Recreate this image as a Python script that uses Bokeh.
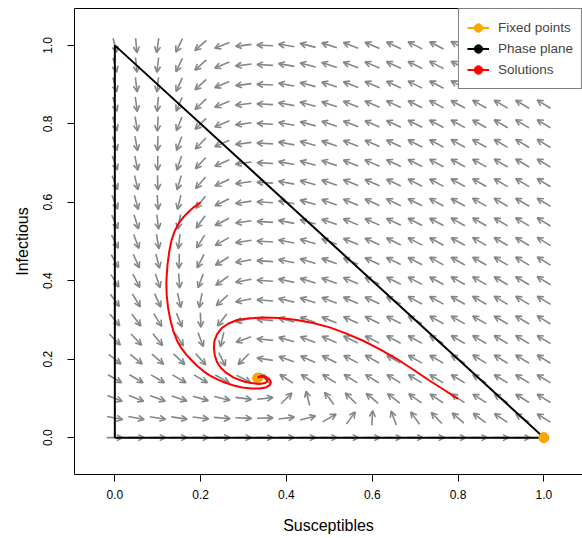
import numpy as np
from bokeh.plotting import figure
from bokeh.models import (Range1d, LinearAxis, FixedTicker, Arrow, OpenHead,
                          ColumnDataSource, Legend, LegendItem)
from bokeh.embed import file_html
from bokeh.resources import INLINE

# ---- SIR model parameters (S* = 1/3, I* ~ 0.153) ----
beta = 1.0
gamma = 0.2563
mu = 0.077

# flow-field grid
grid_S = [0.0, 0.05, 0.1, 0.15, 0.2, 0.25, 0.3, 0.35, 0.4, 0.45, 0.5,
          0.55, 0.6, 0.65, 0.7, 0.75, 0.8, 0.85, 0.9, 0.95, 1.0]
grid_I = [0.0, 0.05, 0.1, 0.15, 0.2, 0.25, 0.3, 0.35, 0.4, 0.45, 0.5,
          0.55, 0.6, 0.65, 0.7, 0.75, 0.8, 0.85, 0.9, 0.95, 1.0]

# fixed points
fixed_S = [1.0, 0.333]
fixed_I = [0.0, 0.152]

# phase plane (triangle S + I <= 1)
plane_S = [0.0, 1.0, 0.0, 0.0]
plane_I = [0.0, 0.0, 1.0, 0.0]

# solutions
sol1_S = [0.200, 0.186, 0.175, 0.160, 0.148, 0.139, 0.132, 0.127, 0.123, 0.121,
          0.120, 0.121, 0.124, 0.129, 0.136, 0.145, 0.155, 0.167, 0.180, 0.193,
          0.207, 0.222, 0.240, 0.258, 0.277, 0.297, 0.317, 0.337, 0.352, 0.361,
          0.364, 0.360, 0.352, 0.343, 0.336, 0.333]
sol1_I = [0.600, 0.589, 0.579, 0.562, 0.545, 0.525, 0.503, 0.475, 0.443, 0.415,
          0.392, 0.362, 0.332, 0.302, 0.273, 0.247, 0.228, 0.211, 0.196, 0.182,
          0.169, 0.158, 0.148, 0.140, 0.133, 0.128, 0.125, 0.125, 0.128, 0.134,
          0.141, 0.149, 0.155, 0.157, 0.155, 0.153]

sol2_S = [0.800, 0.767, 0.734, 0.696, 0.657, 0.618, 0.579, 0.540, 0.501, 0.462,
          0.424, 0.385, 0.346, 0.310, 0.285, 0.265, 0.249, 0.238, 0.232, 0.231,
          0.233, 0.238, 0.247, 0.260, 0.277, 0.296, 0.317, 0.337, 0.350, 0.356,
          0.355, 0.348, 0.340, 0.335, 0.333]
sol2_I = [0.099, 0.122, 0.145, 0.173, 0.201, 0.225, 0.247, 0.265, 0.281, 0.292,
          0.300, 0.305, 0.306, 0.304, 0.300, 0.291, 0.279, 0.263, 0.246, 0.228,
          0.210, 0.193, 0.178, 0.165, 0.153, 0.145, 0.139, 0.137, 0.139, 0.144,
          0.150, 0.155, 0.156, 0.154, 0.152]

tick_values = [0.0, 0.2, 0.4, 0.6, 0.8, 1.0]
tick_labels = ["0.0", "0.2", "0.4", "0.6", "0.8", "1.0"]

FONT = "Liberation Sans"
ARROW_COL = "#7f8a88"

p = figure(width=582, height=538,
           x_range=Range1d(-0.094, 1.0901), y_range=Range1d(-0.094, 1.094),
           output_backend="svg", toolbar_location=None,
           min_border_left=74, min_border_right=0, min_border_top=8,
           min_border_bottom=64,
           x_axis_label="Susceptibles", y_axis_label="Infectious")
p.outline_line_color = None
p.xgrid.visible = False
p.ygrid.visible = False
p.background_fill_color = "white"
p.border_fill_color = "white"

for ax in (p.xaxis[0], p.yaxis[0]):
    ax.ticker = FixedTicker(ticks=tick_values)
    ax.major_label_overrides = {v: l for v, l in zip(tick_values, tick_labels)}
    ax.axis_line_color = "black"
    ax.axis_line_width = 1
    ax.major_tick_line_color = "black"
    ax.major_tick_out = 7
    ax.major_tick_in = 0
    ax.minor_tick_line_color = None
    ax.major_label_text_font = FONT
    ax.major_label_text_font_size = "12px"
    ax.major_label_text_color = "black"
    ax.axis_label_text_font = FONT
    ax.axis_label_text_font_size = "16px"
    ax.axis_label_text_font_style = "normal"
    ax.axis_label_text_color = "black"

p.xaxis[0].major_label_standoff = 8
p.xaxis[0].axis_label_standoff = 15
p.yaxis[0].major_label_orientation = "parallel"
p.yaxis[0].major_label_standoff = 15
p.yaxis[0].axis_label_standoff = 10

top = LinearAxis(ticker=FixedTicker(ticks=[]), axis_line_color="black",
                 major_tick_out=0, major_tick_in=0, minor_tick_out=0,
                 minor_tick_in=0, major_label_standoff=0,
                 major_label_text_font_size="0px")
p.add_layout(top, "above")

# ---- flow field ----
SS, II = np.meshgrid(np.array(grid_S), np.array(grid_I))
dS = mu - beta * SS * II - mu * SS
dI = beta * SS * II - (gamma + mu) * II
mag = np.hypot(dS, dI)
mask = mag > 1e-12
half = 0.0187
ux = dS[mask] / mag[mask]
uy = dI[mask] / mag[mask]
src = ColumnDataSource(dict(x0=SS[mask] - half * ux, y0=II[mask] - half * uy,
                            x1=SS[mask] + half * ux, y1=II[mask] + half * uy))
arr = Arrow(x_start="x0", y_start="y0", x_end="x1", y_end="y1", source=src,
            line_color=ARROW_COL, line_width=1.6,
            end=OpenHead(size=6, line_color=ARROW_COL, line_width=1.6))
arr.level = "underlay"
p.add_layout(arr)

# ---- phase plane, fixed points, solutions ----
plane = p.line(plane_S, plane_I, line_color="black", line_width=2)
# legend proxies (hidden beneath the fixed-point dots)
fp_line = p.line([fixed_S[0], fixed_S[0]], [fixed_I[0], fixed_I[0]],
                 line_color="orange", line_width=2, line_cap="butt")
plane_pt = p.scatter([fixed_S[0]], [fixed_I[0]], size=9,
                     fill_color="black", line_color="black")
sol_pt = p.scatter([fixed_S[1]], [fixed_I[1]], size=9,
                   fill_color="red", line_color="red")
fp = p.scatter(fixed_S, fixed_I, size=10, fill_color="orange", line_color="orange")
s1 = p.line(sol1_S, sol1_I, line_color="red", line_width=2)
s2 = p.line(sol2_S, sol2_I, line_color="red", line_width=2)

legend = Legend(items=[
    LegendItem(label="Fixed points", renderers=[fp_line, fp]),
    LegendItem(label="Phase plane", renderers=[plane, plane_pt]),
    LegendItem(label="Solutions", renderers=[s1, sol_pt]),
], location="top_right")
legend.margin = 0
legend.padding = 8
legend.spacing = 0
legend.glyph_width = 22
legend.glyph_height = 21
legend.label_height = 21
legend.label_standoff = 9
legend.label_text_font = FONT
legend.label_text_font_size = "13.5px"
legend.border_line_color = "black"
legend.border_line_width = 1
legend.background_fill_color = "white"
legend.background_fill_alpha = 1.0
p.add_layout(legend)

open("out.html", "w").write(file_html(p, INLINE))
